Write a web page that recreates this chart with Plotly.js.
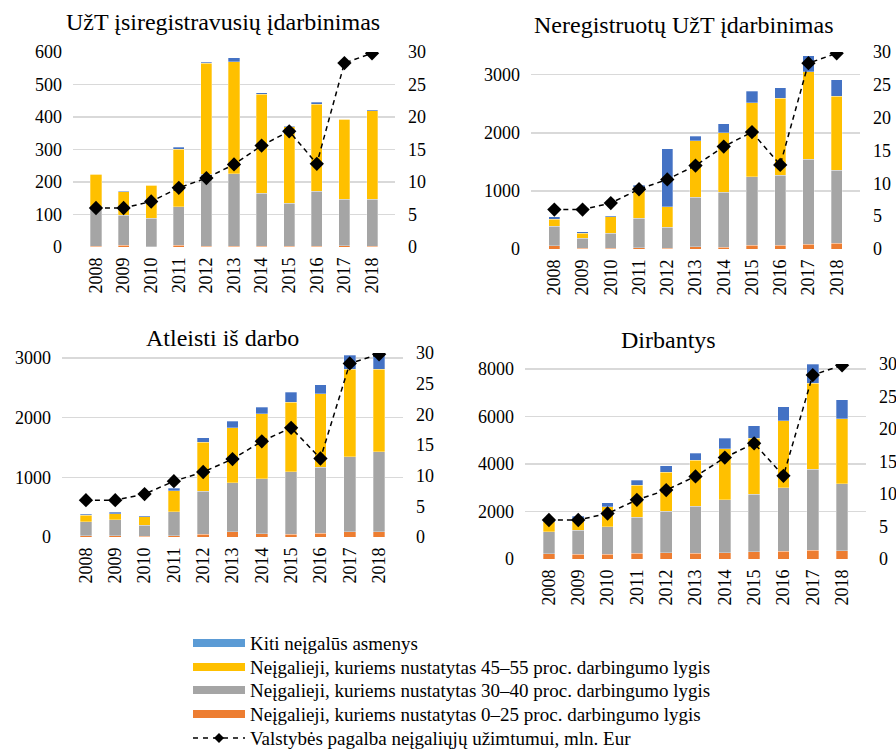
<!DOCTYPE html>
<html>
<head>
<meta charset="utf-8">
<script src="https://cdn.plot.ly/plotly-3.0.1.min.js"></script>
<style>html,body{margin:0;padding:0;background:#fff}#c{width:896px;height:751px}</style>
</head>
<body>
<div id="c"></div>
<script>
// ---------- DATA ----------
const years = ['2008','2009','2010','2011','2012','2013','2014','2015','2016','2017','2018'];
const support = [6.0, 6.0, 7.0, 9.1, 10.6, 12.7, 15.6, 17.8, 12.8, 28.3, 29.8];

const seriesNames = [
  'Kiti neįgalūs asmenys',
  'Neįgalieji, kuriems nustatytas 45–55 proc. darbingumo lygis',
  'Neįgalieji, kuriems nustatytas 30–40 proc. darbingumo lygis',
  'Neįgalieji, kuriems nustatytas 0–25 proc. darbingumo lygis',
  'Valstybės pagalba neįgaliųjų užimtumui, mln. Eur'
];
const panelTitles = ['UžT įsiregistravusių įdarbinimas','Neregistruotų UžT įdarbinimas','Atleisti iš darbo','Dirbantys'];

// UžT įsiregistravusių įdarbinimas
const reg_orange = [2, 5, 1, 5, 2, 3, 3, 2, 3, 4, 2];
const reg_gray   = [118, 92, 88, 119, 222, 222, 162, 132, 168, 143, 145];
const reg_yellow = [104, 73, 101, 177, 341, 345, 305, 236, 268, 246, 272];
const reg_blue   = [0, 2, 0, 6, 3, 12, 5, 1, 6, 0, 4];

// Neregistruotų UžT įdarbinimas
const unreg_orange = [57, 10, 10, 20, 10, 35, 30, 63, 63, 80, 97];
const unreg_gray   = [333, 179, 265, 513, 362, 853, 944, 1181, 1209, 1462, 1255];
const unreg_yellow = [126, 80, 281, 533, 356, 974, 1026, 1277, 1324, 1512, 1278];
const unreg_blue   = [40, 29, 17, 29, 997, 81, 155, 195, 178, 270, 281];

// Atleisti iš darbo
const dis_orange = [22, 22, 10, 20, 45, 90, 56, 50, 62, 90, 90];
const dis_gray   = [236, 264, 186, 401, 723, 819, 920, 1044, 1105, 1256, 1340];
const dis_yellow = [107, 107, 140, 353, 819, 925, 1094, 1166, 1233, 1469, 1385];
const dis_blue   = [16, 22, 23, 45, 73, 107, 106, 163, 152, 230, 247];

// Dirbantys
const work_orange = [225, 196, 196, 239, 267, 239, 267, 309, 323, 379, 351];
const work_gray   = [912, 1025, 1165, 1529, 1740, 1979, 2231, 2414, 2681, 3410, 2821];
const work_yellow = [435, 421, 843, 1334, 1656, 1936, 2134, 2358, 2807, 3607, 2737];
const work_blue   = [112, 154, 154, 210, 267, 309, 449, 519, 603, 800, 786];

// ---------- STYLE / LAYOUT ----------
const W = 896, H = 751;
const fx = x => x / W, fy = y => 1 - y / H;
const FONT = 'Liberation Serif';
const C = {blue:'#4472C4', legBlue:'#5B9BD5', yellow:'#FFC000', gray:'#A5A5A5', orange:'#ED7D31'};

const panels = [
  {t:panelTitles[0], d:[reg_orange,reg_gray,reg_yellow,reg_blue], xd:[73,395], yd:[247,52], ymax:600, dt:100, tt:[223,22]},
  {t:panelTitles[1], d:[unreg_orange,unreg_gray,unreg_yellow,unreg_blue], xd:[531,860], yd:[249,52], ymax:3390, dt:1000, tt:[683,25]},
  {t:panelTitles[2], d:[dis_orange,dis_gray,dis_yellow,dis_blue], xd:[62,403], yd:[537,353], ymax:3084, dt:1000, tt:[222,338]},
  {t:panelTitles[3], d:[work_orange,work_gray,work_yellow,work_blue], xd:[525,866], yd:[559,364], ymax:8210, dt:2000, tt:[668,340]}
];

const traces = [];
const layout = {
  width: W, height: H, margin:{l:0,r:0,t:0,b:0},
  paper_bgcolor:'#fff', plot_bgcolor:'rgba(0,0,0,0)',
  barmode:'stack', bargap:0.6, showlegend:false,
  font:{family:FONT, color:'#000'},
  annotations:[], shapes:[]
};

const segColors = [C.orange, C.gray, C.yellow, C.blue];
panels.forEach((p, i) => {
  const n = i + 1;
  const xk = n === 1 ? 'x' : 'x' + n;
  const yl = 'y' + (2*n - 1 === 1 ? '' : (2*n - 1));
  const yr = 'y' + (2*n);
  p.d.forEach((vals, k) => {
    traces.push({type:'bar', x:years, y:vals, xaxis:xk, yaxis:yl,
      marker:{color:segColors[k], line:{color:'rgba(255,255,255,0.5)', width:0.6}}, hoverinfo:'skip'});
  });
  traces.push({type:'scatter', mode:'lines+markers', x:years, y:support, xaxis:xk, yaxis:yr,
    line:{color:'#000', width:1.5, dash:'5px,4px'}, marker:{symbol:'diamond', size:11, color:'#000'}, hoverinfo:'skip'});

  const xa = 'xaxis' + (n === 1 ? '' : n);
  const yla = 'yaxis' + (2*n - 1 === 1 ? '' : (2*n - 1));
  const yra = 'yaxis' + (2*n);
  layout[xa] = {domain:[fx(p.xd[0]), fx(p.xd[1])], anchor:yl, type:'category',
    tickangle:-90, showgrid:false, zeroline:false, showline:false, ticks:'',
    tickfont:{size:18, family:FONT, color:'#000'}, ticklabelstandoff:6, fixedrange:true};
  layout[yla] = {domain:[fy(p.yd[0]), fy(p.yd[1])], anchor:xk, range:[0, p.ymax], dtick:p.dt, tick0:0,
    showgrid:true, gridcolor:'#D9D9D9', gridwidth:1.5, zeroline:false, showline:false, ticks:'',
    tickfont:{size:18, family:FONT, color:'#000'}, ticklabelstandoff:10, fixedrange:true};
  layout[yra] = {domain:[fy(p.yd[0]), fy(p.yd[1])], anchor:xk, overlaying:yl, side:'right', range:[0,30], dtick:5, tick0:0,
    showgrid:false, zeroline:false, showline:false, ticks:'',
    tickfont:{size:18, family:FONT, color:'#000'}, ticklabelstandoff:12, fixedrange:true};
  layout.annotations.push({xref:'paper', yref:'paper', x:fx(p.tt[0]), y:fy(p.tt[1]), xanchor:'center', yanchor:'middle',
    text:p.t, showarrow:false, font:{size:24, family:FONT, color:'#000'}});
});

// ---------- manual legend ----------
const legColors = [C.legBlue, C.yellow, C.gray, C.orange];
const rows = [643, 667, 690, 714, 738];
const sx0 = 193, sx1 = 245;
legColors.forEach((col, k) => {
  layout.shapes.push({type:'rect', xref:'paper', yref:'paper', x0:fx(sx0), x1:fx(sx1), y0:fy(rows[k]+4), y1:fy(rows[k]-4),
    fillcolor:col, line:{width:0}});
});
layout.shapes.push({type:'line', xref:'paper', yref:'paper', x0:fx(sx0), x1:fx(sx1), y0:fy(rows[4]), y1:fy(rows[4]),
  line:{color:'#000', width:1.5, dash:'5px,5px'}});
{
  const cx = (sx0 + sx1)/2, cy = rows[4], r = 5;
  layout.shapes.push({type:'path', xref:'paper', yref:'paper',
    path:`M ${fx(cx)} ${fy(cy-r)} L ${fx(cx+r)} ${fy(cy)} L ${fx(cx)} ${fy(cy+r)} L ${fx(cx-r)} ${fy(cy)} Z`,
    fillcolor:'#000', line:{color:'#000', width:0}});
}
seriesNames.forEach((name, k) => {
  layout.annotations.push({xref:'paper', yref:'paper', x:fx(sx1+3), y:fy(rows[k]), xanchor:'left', yanchor:'middle',
    text:name, showarrow:false, font:{size:19, family:FONT, color:'#000'}});
});

Plotly.newPlot('c', traces, layout, {staticPlot:true, displayModeBar:false});
</script>
</body>
</html>
